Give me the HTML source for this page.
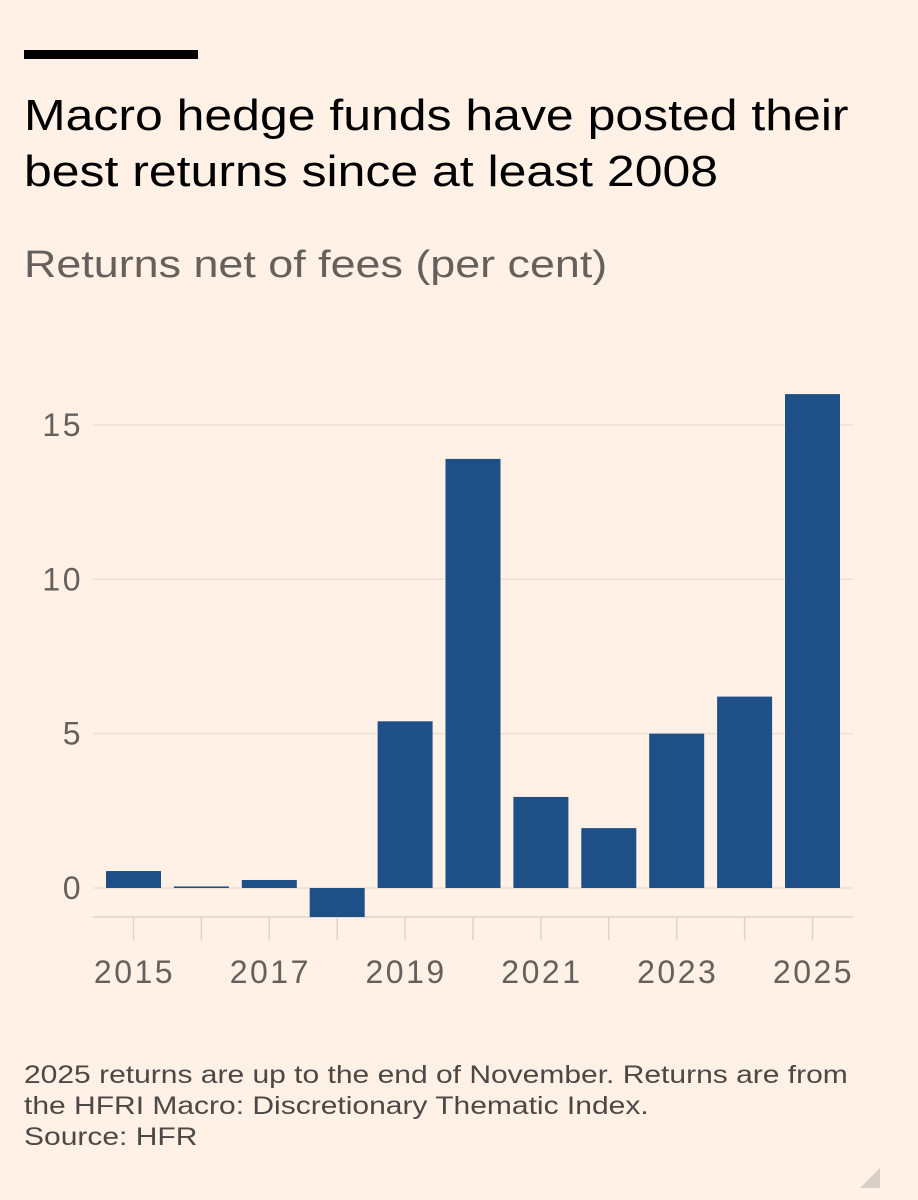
<!DOCTYPE html>
<html><head><meta charset="utf-8"><style>
body{margin:0;background:#fff1e5;}
#c{position:relative;width:918px;height:1200px;background:#fff1e5;font-family:"Liberation Sans",sans-serif;overflow:hidden}
.t{position:absolute;left:24px;margin:0;transform-origin:0 0;white-space:nowrap}
</style></head><body>
<div id="c">
<div style="position:absolute;left:24px;top:50px;width:174px;height:9px;background:#000"></div>
<h1 class="t" style="top:88px;font-size:44px;font-weight:normal;line-height:56px;color:#000;transform:scaleX(1.135)">Macro hedge funds have posted their<br>best returns since at least 2008</h1>
<div class="t" style="top:244px;font-size:38px;color:#66605c;transform:scaleX(1.18)">Returns net of fees (per cent)</div>
<svg id="s" width="918" height="1200" style="position:absolute;left:0;top:0"></svg>
<div class="t" style="top:1060px;font-size:25px;line-height:31px;color:#4d4845;transform:scaleX(1.2)">2025 returns are up to the end of November. Returns are from<br>the HFRI Macro: Discretionary Thematic Index.<br>Source: HFR</div>
<div style="position:absolute;left:860px;top:1168px;width:0;height:0;border-left:20px solid transparent;border-bottom:20px solid #d9cfc6"></div>
</div>
<script>
const years=[2015,2016,2017,2018,2019,2020,2021,2022,2023,2024,2025];
const returns=[0.55,0.05,0.26,-0.94,5.4,13.9,2.95,1.94,5.0,6.2,16.0];
const yTicks=[0,5,10,15];
const xLabels=[2015,2017,2019,2021,2023,2025];
const NS="http://www.w3.org/2000/svg";
const s=document.getElementById('s');
const y=v=>888-v*30.87;
const x=i=>106+i*67.9;
const bw=55;
function mk(t,a){const e=document.createElementNS(NS,t);for(const k in a)e.setAttribute(k,a[k]);s.appendChild(e);return e;}
yTicks.forEach(v=>{
 const l=mk('line',{x1:93,x2:853,y1:y(v),y2:y(v),stroke:'#ecdfd4','stroke-width':1.5});
 
 
 const t=mk('text',{x:83,y:y(v)+11,'text-anchor':'end','font-size':32,'letter-spacing':2.5,fill:'#66605c','font-family':'Liberation Sans'});
 t.textContent=v;
 
 
});
const ax=mk('line',{x1:93,x2:853,y1:917,y2:917,stroke:'#e0d3c8','stroke-width':1.5});


years.forEach((yr,i)=>{
 const v=returns[i];
 const r=mk('rect',{x:x(i),y:Math.min(y(v),y(0)),width:bw,height:Math.max(1.5,Math.abs(y(v)-y(0))),fill:'#1e5087'});
 
 
 const tk=mk('line',{x1:x(i)+bw/2,x2:x(i)+bw/2,y1:917,y2:940,stroke:'#e0d3c8','stroke-width':1.5});
 
 
 if(xLabels.includes(yr)){
  const t=mk('text',{x:x(i)+bw/2+1,y:983,'text-anchor':'middle','font-size':32,'letter-spacing':2.5,fill:'#66605c','font-family':'Liberation Sans'});
  t.textContent=yr;
  
  
 }
});
</script>
</body></html>
